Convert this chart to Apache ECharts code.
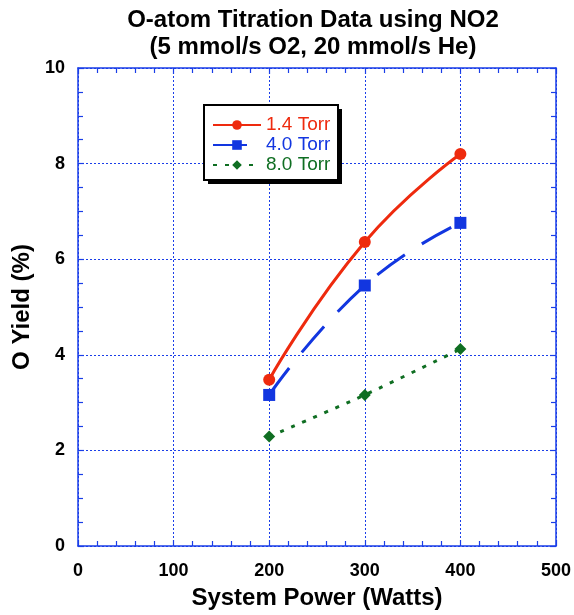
<!DOCTYPE html>
<html><head><meta charset="utf-8">
<script src="https://cdn.jsdelivr.net/npm/echarts@6/dist/echarts.min.js"></script>
<style>html,body{margin:0;padding:0;background:#fff}#c{width:574px;height:615px}</style>
</head><body><div id="c"></div>
<script>
const power = [200, 300, 400];
const torr14 = [3.48, 6.36, 8.20];
const torr40 = [3.16, 5.45, 6.76];
const torr80 = [2.29, 3.16, 4.12];
const seriesNames = ['1.4 Torr', '4.0 Torr', '8.0 Torr'];
const xTicks = [0, 100, 200, 300, 400, 500];
const yTicks = [0, 2, 4, 6, 8, 10];

const RED = '#ee2a0e', BLUE = '#1236e0', GREEN = '#0f6e22', AX = '#1a3ee8';
const FF = 'Liberation Sans, Arial';
const chart = echarts.init(document.getElementById('c'));
const mk = arr => power.map((p, i) => [p, arr[i]]);
const lbl = {color: '#000', fontFamily: FF, fontWeight: 'bold', fontSize: 18};
function xa(show, pos) {
  return {type: 'value', min: xTicks[0], max: xTicks[xTicks.length-1], interval: 100, position: pos,
    axisLine: {show: true, onZero: false, lineStyle: {color: AX, width: 1.5}},
    axisTick: {show: true, inside: true, length: 6, lineStyle: {color: AX, width: 1.2}},
    minorTick: {show: true, splitNumber: 5, length: 5, lineStyle: {color: AX, width: 1.2}},
    splitLine: {show: show, lineStyle: {color: AX, type: [2, 2], width: 1}},
    axisLabel: show ? Object.assign({margin: 16}, lbl) : {show: false},
    name: show ? 'System Power (Watts)' : '', nameLocation: 'middle', nameGap: 40,
    nameTextStyle: {color: '#000', fontFamily: FF, fontWeight: 'bold', fontSize: 24}};
}
function ya(show, pos) {
  return {type: 'value', min: yTicks[0], max: yTicks[yTicks.length-1], interval: 2, position: pos,
    axisLine: {show: true, onZero: false, lineStyle: {color: AX, width: 1.5}},
    axisTick: {show: true, inside: true, length: 6, lineStyle: {color: AX, width: 1.2}},
    minorTick: {show: true, splitNumber: 4, length: 5, lineStyle: {color: AX, width: 1.2}},
    splitLine: {show: show, lineStyle: {color: AX, type: [2, 2], width: 1}},
    axisLabel: show ? Object.assign({margin: 13}, lbl) : {show: false},
    name: show ? 'O Yield (%)' : '', nameLocation: 'middle', nameGap: 40,
    nameTextStyle: {color: '#000', fontFamily: FF, fontWeight: 'bold', fontSize: 24}};
}
chart.setOption({
  backgroundColor: '#fff',
  animation: false,
  title: {text: 'O-atom Titration Data using NO2\n(5 mmol/s O2, 20 mmol/s He)', left: 308, textAlign: 'center', top: 2,
    textStyle: {color: '#000', fontFamily: FF, fontWeight: 'bold', fontSize: 24, lineHeight: 27}},
  grid: {left: 78, top: 68, right: 17, bottom: 68, containLabel: false},
  xAxis: [xa(true, 'bottom'), xa(false, 'top')],
  yAxis: [ya(true, 'left'), ya(false, 'right')],
  graphic: [
    {type: 'rect', z: 90, silent: true, shape: {x: 208, y: 109, width: 134, height: 75}, style: {fill: '#000'}},
    {type: 'rect', z: 91, silent: true, shape: {x: 204, y: 105, width: 134, height: 75}, style: {fill: '#fff', stroke: '#000', lineWidth: 2}}
  ],
  legend: {orient: 'vertical', left: 212, top: 115, itemWidth: 48, itemHeight: 12, itemGap: 0,
    padding: 0, z: 100, textStyle: {fontFamily: FF, fontSize: 19, lineHeight: 20, height: 20, padding: [0, 0, 0, 0]},
    data: [
      {name: seriesNames[0], textStyle: {color: RED}},
      {name: seriesNames[1], textStyle: {color: BLUE}},
      {name: seriesNames[2], textStyle: {color: GREEN}}
    ]},
  series: [
    {name: seriesNames[0], type: 'line', data: mk(torr14), smooth: 0.5, symbol: 'circle', symbolSize: 12,
      itemStyle: {color: RED}, lineStyle: {color: RED, width: 3}, z: 5},
    {name: seriesNames[1], type: 'line', data: mk(torr40), smooth: 0.5, symbol: 'rect', symbolSize: 12,
      itemStyle: {color: BLUE}, lineStyle: {color: BLUE, width: 3, type: [34, 20]}, z: 4},
    {name: seriesNames[2], type: 'line', data: mk(torr80), smooth: 0.3, symbol: 'diamond', symbolSize: 12,
      itemStyle: {color: GREEN}, lineStyle: {color: GREEN, width: 3, type: [4, 8]}, z: 3}
  ]
});
</script></body></html>
